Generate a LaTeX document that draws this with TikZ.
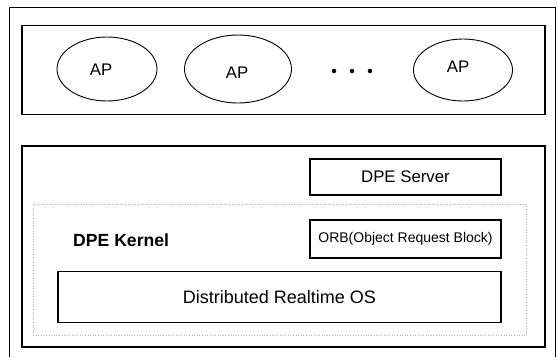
\documentclass[tikz,border=0pt]{standalone}
\usepackage{fontspec}
\setmainfont{Liberation Sans}
\usetikzlibrary{shapes.geometric}
\begin{document}
\begin{tikzpicture}[x=1pt,y=-1pt,
  frame/.style={draw=black,line width=1.1pt,inner sep=0pt},
  apell/.style={draw=black,line width=0.9pt,ellipse,inner sep=0pt},
  lbl/.style={font=\fontsize{16.8}{18}\selectfont,inner sep=0pt},
  kern/.style={draw=gray!60,line width=0.6pt,dotted,inner sep=0pt},
  dotmark/.style={circle,fill=black,inner sep=0pt,minimum size=4.5pt}]
\useasboundingbox (0,0) rectangle (558,357);
% outer frame (open at bottom)
\coordinate (ol) at (9,357);
\coordinate (otl) at (9,7);
\coordinate (otr) at (555,7);
\coordinate (or) at (555,357);
\draw[line width=0.8pt] (ol) -- (otl) -- (otr) -- (or);
% top box
\node[frame,minimum width=523pt,minimum height=89pt] (apbox) at (283.5,70) {};
\node[apell,minimum width=100pt,minimum height=64pt] (ap1) at (107,69) {};
\node[lbl] at (101,70) (ap1t) {AP};
\node[apell,minimum width=107pt,minimum height=68pt] (ap2) at (238,69) {};
\node[lbl] at (237,73) (ap2t) {AP};
\node[apell,minimum width=99pt,minimum height=62pt] (ap3) at (463,70) {};
\node[lbl] at (458,67) (ap3t) {AP};
\node[dotmark] (d1) at (334,71) {};
\node[dotmark] (d2) at (352,71) {};
\node[dotmark] (d3) at (370,71) {};
% bottom box
\node[frame,minimum width=523pt,minimum height=201pt] (dpebox) at (283.5,246.5) {};
\node[kern,minimum width=493pt,minimum height=131pt] (kernel) at (279.5,269.5) {};
\node[frame,minimum width=191pt,minimum height=36pt,lbl] (server) at (405.5,177) {DPE Server};
\node[frame,minimum width=191pt,minimum height=38pt,font=\fontsize{14}{16}\selectfont] (orb) at (405.5,239) {ORB(Object Request Block)};
\node[lbl,font=\bfseries\fontsize{17.6}{19}\selectfont,anchor=west] (kt) at (73,240) {DPE Kernel};
\node[frame,minimum width=443pt,minimum height=51pt,lbl,font=\fontsize{18}{20}\selectfont] (os) at (279.5,297) {Distributed Realtime OS};
\end{tikzpicture}
\end{document}
